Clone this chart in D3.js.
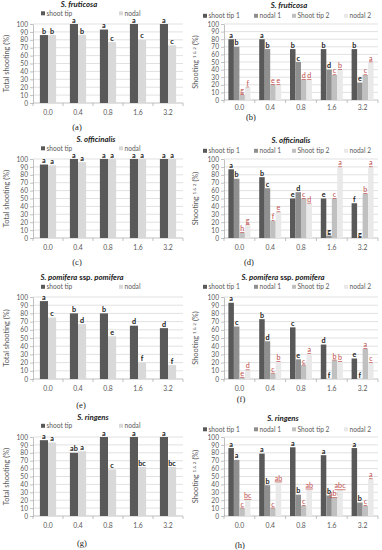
<!DOCTYPE html>
<html>
<head>
<meta charset="utf-8">
<script src="https://cdn.jsdelivr.net/npm/d3@7"></script>
<style>
body { margin: 0; background: #fff; }
text { font-family: Lato, "Liberation Sans", sans-serif; }
</style>
</head>
<body>
<svg id="fig" width="382" height="550"></svg>
<script>
var doses = ["0.0", "0.4", "0.8", "1.6", "3.2"];
var totalNames = ["shoot tip", "nodal"];
var splitNames = ["shoot tip 1", "nodal 1", "Shoot tip 2", "nodal 2"];

// S. fruticosa
var frutTotalTip = [86, 100, 93, 100, 100];
var frutTotalNodal = [86, 86, 77, 80, 73];
var frutTotalTipLetters = ["b", "a", "a", "a", "a"];
var frutTotalNodalLetters = ["b", "b", "c", "c", "c"];
var frutTip1 = [80, 80, 67, 67, 67];
var frutNodal1 = [70, 67, 50, 40, 23];
var frutTip2 = [7, 20, 27, 33, 33];
var frutNodal2 = [17, 20, 27, 40, 50];
var frutTip1Letters = ["a", "a", "b", "b", "b"];
var frutNodal1Letters = ["b", "b", "c", "d", "e"];
var frutTip2Letters = ["g", "e", "d", "c", "c"];
var frutNodal2Letters = ["f", "e", "d", "b", "a"];

// S. officinalis
var offTotalTip = [93, 100, 100, 100, 100];
var offTotalNodal = [92, 96, 100, 100, 100];
var offTotalTipLetters = ["a", "a", "a", "a", "a"];
var offTotalNodalLetters = ["a", "a", "a", "a", "a"];
var offTip1 = [87, 77, 50, 50, 44];
var offNodal1 = [75, 63, 58, 3, 0];
var offTip2 = [7, 22, 50, 50, 56];
var offNodal2 = [17, 33, 44, 90, 90];
var offTip1Letters = ["a", "b", "e", "e", "f"];
var offNodal1Letters = ["b", "c", "d", "g", "g"];
var offTip2Letters = ["h", "f", "c", "c", "b"];
var offNodal2Letters = ["g", "e", "d", "a", "a"];

// S. pomifera ssp. pomifera
var pomTotalTip = [95, 80, 80, 65, 62];
var pomTotalNodal = [75, 67, 52, 20, 17];
var pomTotalTipLetters = ["a", "b", "b", "d", "d"];
var pomTotalNodalLetters = ["c", "d", "e", "f", "f"];
var pomTip1 = [93, 73, 63, 42, 25];
var pomNodal1 = [64, 46, 24, 0, 0];
var pomTip2 = [2, 7, 17, 23, 37];
var pomNodal2 = [11, 21, 31, 21, 20];
var pomTip1Letters = ["a", "b", "c", "d", "e"];
var pomNodal1Letters = ["c", "d", "e", "f", "f"];
var pomTip2Letters = ["e", "c", "c", "b", "a"];
var pomNodal2Letters = ["d", "b", "a", "b", "c"];

// S. ringens
var ringTotalTip = [96, 80, 100, 100, 100];
var ringTotalNodal = [93, 82, 59, 62, 62];
var ringTotalTipLetters = ["a", "ab", "a", "a", "a"];
var ringTotalNodalLetters = ["a", "a", "c", "bc", "bc"];
var ringTip1 = [86, 79, 87, 77, 86];
var ringNodal1 = [71, 39, 27, 26, 17];
var ringTip2 = [10, 10, 13, 23, 13];
var ringNodal2 = [21, 43, 34, 33, 47];
var ringTip1Letters = ["a", "a", "a", "a", "a"];
var ringNodal1Letters = ["a", "b", "b", "b", "b"];
var ringTip2Letters = ["c", "c", "c", "abc", "c"];
var ringNodal2Letters = ["bc", "ab", "ab", "abc", "a"];

var totalColors = ["#595959", "#d9d9d9"];
var splitColors = ["#595959", "#8f8f8f", "#c0c0c0", "#e9e9e9"];

var svg = d3.select("#fig");

var panels = [
    { tag: "(a)", title: [["S. fruticosa", true]], col: 0,
      series: [frutTotalTip, frutTotalNodal], letters: [frutTotalTipLetters, frutTotalNodalLetters],
      yTop: 24, yBot: 103, titleX: 79, titleY: 7, legendY: 13.5, tickY: 115, tagX: 77, tagY: 130 },
    { tag: "(b)", title: [["S. fruticosa", true]], col: 1,
      series: [frutTip1, frutNodal1, frutTip2, frutNodal2],
      letters: [frutTip1Letters, frutNodal1Letters, frutTip2Letters, frutNodal2Letters],
      yTop: 24, yBot: 100, titleX: 289, titleY: 8, legendY: 16, tickY: 110, tagX: 251, tagY: 120 },
    { tag: "(c)", title: [["S. officinalis", true]], col: 0,
      series: [offTotalTip, offTotalNodal], letters: [offTotalTipLetters, offTotalNodalLetters],
      yTop: 159, yBot: 238, titleX: 96, titleY: 142, legendY: 148.5, tickY: 250, tagX: 77, tagY: 265 },
    { tag: "(d)", title: [["S. officinalis", true]], col: 1,
      series: [offTip1, offNodal1, offTip2, offNodal2],
      letters: [offTip1Letters, offNodal1Letters, offTip2Letters, offNodal2Letters],
      yTop: 159, yBot: 238, titleX: 291, titleY: 143, legendY: 151, tickY: 250, tagX: 249, tagY: 265 },
    { tag: "(e)", title: [["S. pomifera", true], [" ssp. ", false], ["pomifera", true]], col: 0,
      series: [pomTotalTip, pomTotalNodal], letters: [pomTotalTipLetters, pomTotalNodalLetters],
      yTop: 297, yBot: 379, titleX: 82, titleY: 280, legendY: 287, tickY: 391, tagX: 81, tagY: 408 },
    { tag: "(f)", title: [["S. pomifera", true], [" ssp. ", false], ["pomifera", true]], col: 1,
      series: [pomTip1, pomNodal1, pomTip2, pomNodal2],
      letters: [pomTip1Letters, pomNodal1Letters, pomTip2Letters, pomNodal2Letters],
      yTop: 297, yBot: 379, titleX: 283, titleY: 280, legendY: 287, tickY: 391, tagX: 241, tagY: 402 },
    { tag: "(g)", title: [["S. ringens", true]], col: 0,
      series: [ringTotalTip, ringTotalNodal], letters: [ringTotalTipLetters, ringTotalNodalLetters],
      yTop: 437, yBot: 516, titleX: 93, titleY: 420, legendY: 426, tickY: 528, tagX: 82, tagY: 546 },
    { tag: "(h)", title: [["S. ringens", true]], col: 1,
      series: [ringTip1, ringNodal1, ringTip2, ringNodal2],
      letters: [ringTip1Letters, ringNodal1Letters, ringTip2Letters, ringNodal2Letters],
      yTop: 437, yBot: 516, titleX: 283, titleY: 421, legendY: 429.5, tickY: 528, tagX: 240, tagY: 548 }
];

var legendLeftX = [41, 119];
var legendRightX = [203, 254, 292, 344];

panels.forEach(drawPanel);

function drawPanel(p) {
    var g = svg.append("g");
    var left = p.col == 0;
    var x0 = left ? 33 : 224;
    var x1 = left ? 183 : 378;
    var names = left ? totalNames : splitNames;
    var colors = left ? totalColors : splitColors;

    var x = d3.scaleBand().domain(doses).range([x0, x1]);
    var sub = d3.scaleBand()
        .domain(d3.range(names.length))
        .range([0, x.bandwidth()])
        .paddingOuter(left ? 0.85 : 0.8);
    var y = d3.scaleLinear().domain([0, 100]).range([p.yBot, p.yTop]);

    // horizontal gridlines
    g.append("g").selectAll("line")
        .data(y.ticks(10))
        .join("line")
        .attr("x1", x0).attr("x2", x1)
        .attr("y1", function (d) { return y(d); })
        .attr("y2", function (d) { return y(d); })
        .attr("stroke", function (d) { return d == 0 ? "#a6a6a6" : "#d4d4d4"; })
        .attr("stroke-width", 0.7);

    // y axis
    var ya = g.append("g")
        .attr("transform", "translate(" + x0 + ",0)")
        .call(d3.axisLeft(y).ticks(10).tickSize(3).tickSizeOuter(0).tickPadding(2));
    ya.select(".domain").attr("stroke", "#a6a6a6").attr("stroke-width", 0.7);
    ya.selectAll(".tick line").attr("stroke", "#a6a6a6").attr("stroke-width", 0.7);
    ya.selectAll(".tick text")
        .attr("fill", "#595959")
        .style("font-size", "6.6px")
        .style("font-family", "Lato, sans-serif");

    // category tick marks on the base line
    g.append("g").selectAll("line")
        .data(doses.concat(["end"]))
        .join("line")
        .attr("x1", function (d, i) { return x0 + i * x.step(); })
        .attr("x2", function (d, i) { return x0 + i * x.step(); })
        .attr("y1", p.yBot).attr("y2", p.yBot + 3)
        .attr("stroke", "#a6a6a6").attr("stroke-width", 0.7);

    // dose labels
    g.append("g").selectAll("text")
        .data(doses)
        .join("text")
        .attr("x", function (d) { return x(d) + x.bandwidth() / 2; })
        .attr("y", p.tickY)
        .attr("text-anchor", "middle")
        .attr("fill", "#595959")
        .style("font-size", "6.8px")
        .text(function (d) { return d; });

    // bars and letters
    p.series.forEach(function (vals, si) {
        g.append("g").selectAll("rect")
            .data(vals)
            .join("rect")
            .attr("x", function (d, i) { return x(doses[i]) + sub(si); })
            .attr("y", function (d) { return y(d); })
            .attr("width", sub.bandwidth())
            .attr("height", function (d) { return y(0) - y(d); })
            .attr("fill", colors[si]);

        var red = !left && si >= 2;
        g.append("g").selectAll("text")
            .data(p.letters[si])
            .join("text")
            .attr("x", function (d, i) { return x(doses[i]) + sub(si) + sub.bandwidth() / 2; })
            .attr("y", function (d, i) { return y(vals[i]) - 1.5; })
            .attr("text-anchor", "middle")
            .attr("fill", red ? "#c0504d" : "#1a1a1a")
            .style("font-size", "7.2px")
            .style("font-weight", red ? "normal" : "bold")
            .style("text-decoration", red ? "underline" : "none")
            .text(function (d) { return d; });
    });

    // title
    var t = g.append("text")
        .attr("x", p.titleX).attr("y", p.titleY)
        .attr("text-anchor", "middle")
        .attr("fill", "#1a1a1a")
        .style("font-size", "7.8px")
        .style("font-weight", "bold");
    p.title.forEach(function (part) {
        t.append("tspan")
            .style("font-style", part[1] ? "italic" : "normal")
            .text(part[0]);
    });

    // legend
    var lx = left ? legendLeftX : legendRightX;
    var lg = g.append("g").selectAll("g")
        .data(names)
        .join("g")
        .attr("transform", function (d, i) { return "translate(" + lx[i] + "," + p.legendY + ")"; });
    lg.append("rect")
        .attr("x", 0).attr("y", -2.2)
        .attr("width", 4).attr("height", 4)
        .attr("fill", function (d, i) { return colors[i]; });
    lg.append("text")
        .attr("x", 5.5).attr("y", 2.2)
        .attr("fill", "#595959")
        .style("font-size", "6.6px")
        .text(function (d) { return d; });

    // y axis title
    var yt = g.append("text")
        .attr("transform", "translate(" + (left ? 9 : 198) + "," + ((p.yTop + p.yBot) / 2) + ") rotate(-90)")
        .attr("text-anchor", "middle")
        .attr("fill", "#595959")
        .style("font-size", "7.4px");
    if (left) {
        yt.text("Total shooting (%)");
    } else {
        yt.append("tspan").text("Shooting ");
        yt.append("tspan").attr("dy", -2.5).style("font-size", "4.6px").text("1 & 2");
        yt.append("tspan").attr("dy", 2.5).text(" (%)");
    }

    // panel tag
    g.append("text")
        .attr("x", p.tagX).attr("y", p.tagY)
        .attr("text-anchor", "middle")
        .attr("fill", "#1a1a1a")
        .style("font-family", "'Liberation Serif', 'DejaVu Serif', serif")
        .style("font-size", "8.5px")
        .text(p.tag);
}
</script>
</body>
</html>
